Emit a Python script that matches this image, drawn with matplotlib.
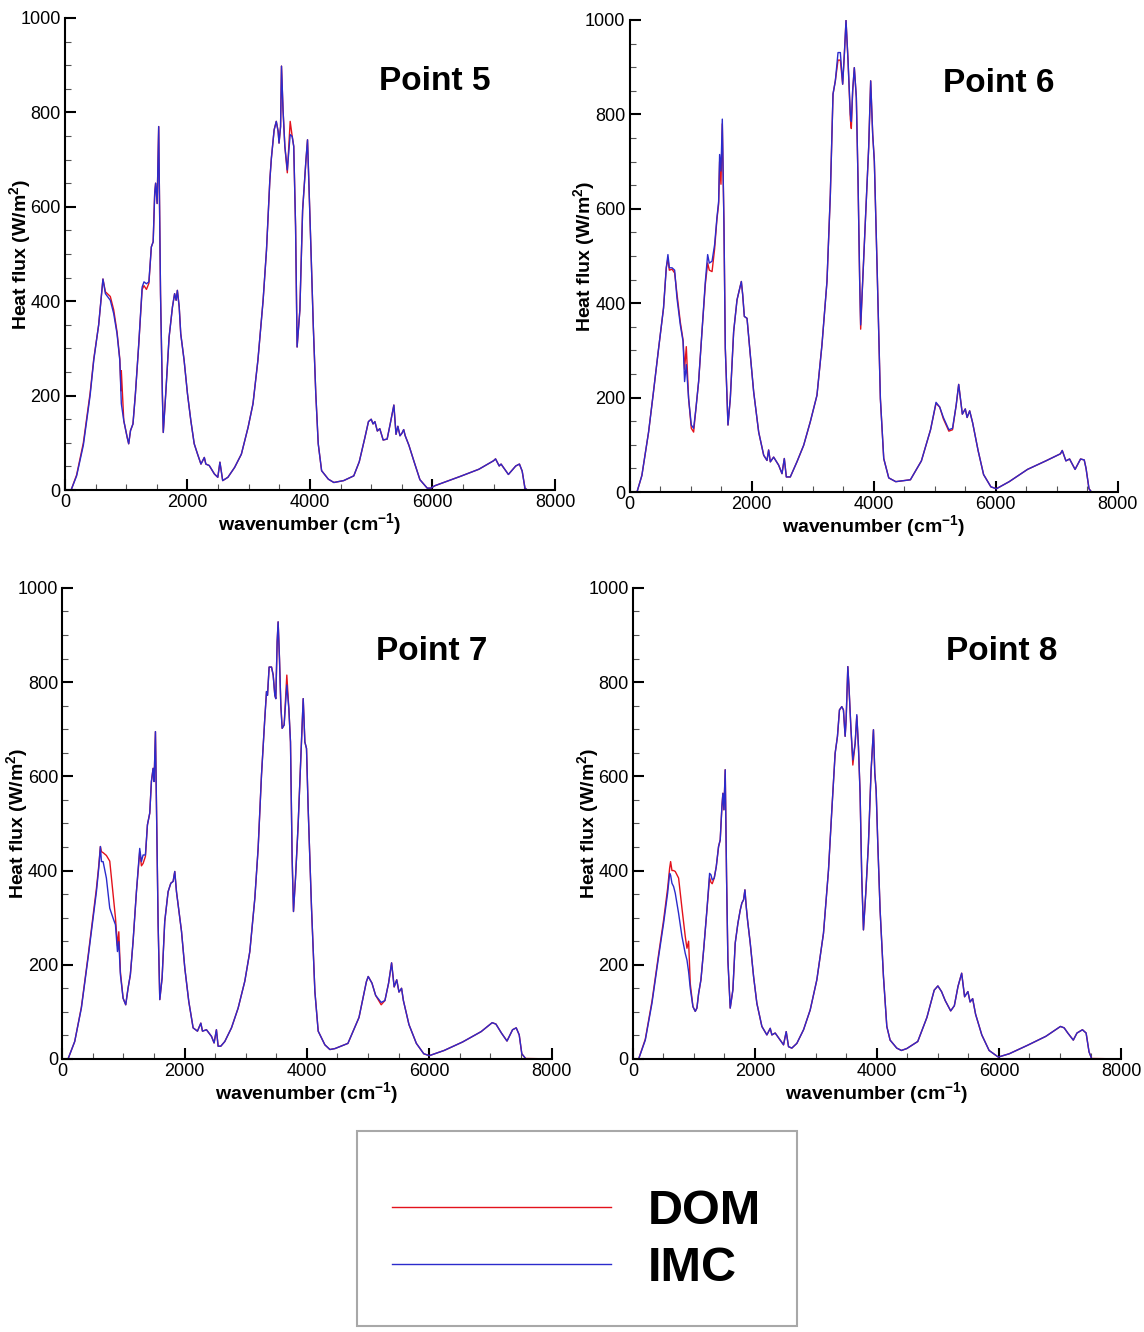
import matplotlib
matplotlib.use('Agg')
import numpy as np
import matplotlib.pyplot as plt
from matplotlib.ticker import MultipleLocator
from matplotlib.patches import Rectangle

plt.rcParams['font.family'] = ['Liberation Sans', 'DejaVu Sans']
plt.rcParams['mathtext.fontset'] = 'custom'
plt.rcParams['mathtext.rm'] = 'Liberation Sans:bold'
plt.rcParams['mathtext.it'] = 'Liberation Sans:bold'
plt.rcParams['mathtext.bf'] = 'Liberation Sans:bold'

nan = np.nan

# ---- Point 5 ----
wn5 = [0, 100, 190, 300, 410, 470, 550, 620, 660, 740, 795, 850, 895, 915, 920, 960,
       1015, 1040, 1070, 1110, 1150, 1205, 1260, 1290, 1330, 1370, 1410, 1440, 1465, 1480,
       1505, 1530, 1560, 1590, 1605, 1645, 1700, 1755, 1790, 1815, 1835, 1865, 1890, 1945,
       2000, 2055, 2110, 2165, 2220, 2275, 2300, 2355, 2440, 2495, 2530, 2575, 2660, 2770,
       2880, 2990, 3070, 3150, 3235, 3290, 3345, 3370, 3415, 3450, 3480, 3495, 3520, 3535,
       3560, 3590, 3630, 3677, 3710, 3735, 3765, 3790, 3835, 3880, 3935, 3960, 3990, 4015,
       4055, 4095, 4135, 4190, 4300, 4390, 4550, 4715, 4805, 4895, 4955, 5000, 5030, 5060,
       5100, 5140, 5195, 5260, 5310, 5370, 5405, 5435, 5470, 5500, 5530, 5555, 5615, 5705,
       5795, 5915, 5975, 6036, 6456, 6757, 6997, 7030, 7090, 7120, 7180, 7240, 7300, 7360,
       7420, 7465, 7510, 7550, 8000]
imc5 = [0, 0, 30, 95, 200, 275, 350, 447, 416, 402, 374, 331, 275, 204, 183, 147,
        112, 98, 126, 140, 204, 310, 430, 441, 437, 441, 515, 526, 629, 650,
        607, 770, 416, 204, 122, 204, 324, 388, 416, 402, 423, 388, 331, 275,
        204, 147, 98, 76, 55, 69, 55, 52, 34, 27, 59, 20, 27, 48,
        76, 133, 183, 275, 402, 508, 657, 703, 763, 781, 760, 735, 770, 898,
        806, 728, 678, 753, 749, 728, 558, 303, 381, 593, 700, 742, 622, 515,
        345, 204, 98, 41, 23, 16, 20, 30, 60, 110, 145, 150, 140, 145,
        125, 130, 106, 108, 140, 180, 118, 135, 115, 120, 128, 115, 95, 58,
        22, 4, 4, 9, 29, 44, 62, 66, 51, 55, 44, 33, 42, 51,
        55, 40, 4, 0, nan]
dom5 = [0, 0, 32, 100, 205, 278, 350, 447, 420, 410, 382, 335, 278, 210, 253, 147,
        112, 98, 126, 140, 204, 310, 425, 433, 425, 438, 515, 526, 629, 650,
        607, 770, 416, 204, 122, 204, 324, 388, 416, 402, 423, 388, 331, 275,
        204, 147, 98, 76, 55, 69, 55, 52, 34, 27, 59, 20, 27, 48,
        76, 133, 183, 275, 402, 508, 657, 703, 763, 781, 760, 735, 770, 898,
        806, 728, 672, 781, 749, 728, 558, 303, 381, 593, 700, 742, 622, 515,
        345, 204, 98, 41, 23, 16, 20, 30, 60, 110, 145, 150, 140, 145,
        125, 130, 106, 108, 140, 180, 118, 135, 115, 120, 128, 115, 95, 58,
        22, 4, 4, 9, 29, 44, 62, 66, 51, 55, 44, 33, 42, 51,
        55, 40, 4, 0, 0]

# ---- Point 6 ----
wn6 = [0, 120, 200, 310, 390, 475, 555, 600, 627, 650, 695, 737, 775, 830, 875, 900,
       928, 966, 1010, 1048, 1086, 1130, 1185, 1240, 1278, 1305, 1350, 1392, 1430, 1458,
       1474, 1496, 1518, 1545, 1567, 1611, 1649, 1704, 1759, 1797, 1830, 1852, 1879, 1923,
       1977, 2032, 2114, 2196, 2250, 2277, 2305, 2359, 2441, 2496, 2534, 2567, 2632, 2741,
       2851, 2960, 3069, 3151, 3233, 3288, 3332, 3370, 3414, 3452, 3490, 3518, 3545, 3578,
       3616, 3632, 3654, 3681, 3714, 3742, 3769, 3785, 3818, 3862, 3916, 3949, 3982, 4009,
       4053, 4108, 4163, 4245, 4360, 4600, 4780, 4930, 5020, 5080, 5140, 5230, 5290, 5350,
       5391, 5451, 5499, 5529, 5571, 5619, 5709, 5799, 5919, 6009, 6219, 6519, 6819, 7058,
       7088, 7148, 7208, 7298, 7388, 7448, 7478, 7526, 7568, 8000]
imc6 = [0, 0, 35, 127, 212, 305, 390, 475, 503, 475, 475, 470, 411, 354, 319, 234,
        270, 198, 142, 135, 177, 234, 340, 446, 503, 485, 489, 524, 581, 616,
        715, 680, 790, 567, 305, 142, 198, 340, 407, 428, 446, 418, 372, 368,
        290, 212, 127, 78, 67, 89, 64, 74, 57, 39, 71, 32, 32, 64,
        99, 149, 205, 312, 446, 630, 843, 871, 931, 931, 864, 928, 999, 914,
        800, 785, 850, 899, 836, 659, 446, 354, 446, 574, 729, 871, 758, 701,
        482, 198, 71, 30, 22, 26, 66, 132, 190, 180, 158, 132, 135, 184,
        228, 165, 176, 158, 172, 147, 88, 37, 11, 7, 22, 48, 66, 81,
        88, 66, 70, 48, 70, 68, 50, 7, 0, nan]
dom6 = [0, 0, 35, 127, 212, 305, 390, 475, 495, 470, 472, 464, 420, 360, 322, 260,
        308, 198, 135, 127, 177, 234, 340, 440, 485, 470, 467, 515, 578, 610,
        700, 652, 780, 567, 305, 142, 198, 340, 407, 428, 446, 418, 372, 368,
        290, 212, 127, 78, 67, 89, 64, 74, 57, 39, 71, 32, 32, 64,
        99, 149, 205, 312, 446, 630, 843, 871, 915, 915, 864, 928, 999, 914,
        790, 770, 850, 899, 836, 659, 446, 345, 446, 574, 729, 871, 758, 701,
        482, 198, 71, 30, 22, 26, 66, 132, 188, 180, 155, 129, 132, 184,
        228, 165, 176, 158, 172, 147, 88, 37, 11, 7, 22, 48, 66, 81,
        88, 66, 70, 48, 70, 68, 50, 7, 0, 0]

# ---- Point 7 ----
wn7 = [0, 95, 204, 313, 422, 504, 559, 597, 624, 641, 668, 722, 777, 831, 870, 903,
       925, 951, 995, 1038, 1076, 1114, 1158, 1213, 1267, 1295, 1322, 1360, 1393, 1431,
       1458, 1486, 1502, 1524, 1546, 1568, 1595, 1633, 1676, 1731, 1775, 1813, 1840, 1868,
       1895, 1950, 2004, 2069, 2140, 2211, 2266, 2293, 2358, 2440, 2483, 2521, 2549, 2592,
       2658, 2767, 2876, 2985, 3067, 3149, 3203, 3258, 3312, 3340, 3356, 3383, 3422, 3449,
       3476, 3492, 3514, 3530, 3552, 3574, 3596, 3628, 3672, 3705, 3732, 3759, 3781, 3814,
       3857, 3901, 3940, 3967, 3994, 4021, 4076, 4131, 4185, 4294, 4376, 4459, 4671, 4852,
       4973, 5003, 5064, 5124, 5215, 5276, 5336, 5385, 5427, 5469, 5506, 5548, 5578, 5669,
       5790, 5911, 6002, 6244, 6546, 6849, 7030, 7091, 7181, 7272, 7363, 7423, 7472, 7514,
       7575, 8000]
imc7 = [0, 0, 37, 108, 214, 299, 355, 405, 451, 419, 419, 384, 320, 299, 285, 228,
        249, 179, 129, 115, 150, 179, 249, 355, 447, 419, 433, 433, 497, 522,
        589, 617, 589, 695, 497, 285, 126, 172, 292, 355, 373, 377, 398, 355,
        327, 271, 193, 122, 66, 59, 76, 59, 62, 48, 34, 62, 27, 27,
        37, 66, 108, 165, 228, 341, 447, 603, 723, 780, 772, 832, 832, 815,
        772, 765, 886, 928, 850, 751, 702, 709, 794, 744, 673, 426, 313, 384,
        497, 638, 765, 673, 659, 532, 320, 143, 59, 30, 20, 22, 33, 88,
        164, 175, 161, 135, 120, 124, 161, 204, 153, 168, 142, 150, 124, 73,
        33, 11, 7, 18, 36, 58, 77, 74, 55, 38, 62, 66, 51, 11,
        1, nan]
dom7 = [0, 0, 37, 110, 218, 305, 362, 410, 451, 440, 438, 432, 420, 350, 300, 240,
        270, 185, 129, 115, 150, 179, 249, 355, 440, 410, 415, 430, 497, 522,
        589, 617, 589, 695, 497, 285, 126, 172, 292, 355, 373, 377, 398, 355,
        327, 271, 193, 122, 66, 59, 76, 59, 62, 48, 34, 62, 27, 27,
        37, 66, 108, 165, 228, 341, 447, 603, 723, 780, 772, 832, 832, 815,
        772, 765, 886, 928, 850, 751, 702, 709, 815, 744, 673, 426, 313, 384,
        497, 638, 765, 673, 659, 532, 320, 143, 59, 30, 20, 22, 33, 88,
        164, 175, 161, 135, 115, 124, 161, 204, 153, 168, 142, 150, 124, 73,
        33, 11, 7, 18, 36, 58, 77, 74, 55, 38, 62, 66, 51, 11,
        1, 0]

# ---- Point 8 ----
wn8 = [0, 93, 202, 311, 420, 502, 568, 601, 617, 639, 666, 693, 748, 803, 857, 885,
       912, 939, 983, 1021, 1048, 1076, 1114, 1158, 1212, 1256, 1278, 1299, 1332, 1365,
       1403, 1430, 1458, 1474, 1491, 1512, 1534, 1556, 1594, 1638, 1676, 1720, 1758, 1785,
       1813, 1835, 1856, 1878, 1922, 1977, 2031, 2113, 2195, 2250, 2277, 2331, 2413, 2468,
       2512, 2550, 2604, 2686, 2796, 2905, 3014, 3123, 3205, 3260, 3314, 3352, 3385, 3423,
       3450, 3478, 3494, 3522, 3543, 3571, 3604, 3642, 3669, 3696, 3723, 3750, 3778, 3816,
       3860, 3904, 3942, 3964, 3986, 4013, 4051, 4106, 4161, 4215, 4324, 4400, 4488, 4668,
       4818, 4938, 4998, 5058, 5118, 5208, 5268, 5328, 5388, 5436, 5490, 5526, 5568, 5616,
       5718, 5838, 5988, 6168, 6468, 6768, 7008, 7068, 7128, 7218, 7278, 7368, 7428, 7476,
       7518, 8000]
imc8 = [0, 0, 40, 118, 217, 288, 352, 394, 390, 373, 366, 352, 309, 260, 224, 210,
        185, 150, 111, 101, 108, 139, 168, 231, 316, 394, 391, 380, 384, 408,
        451, 465, 536, 564, 529, 614, 387, 210, 108, 147, 246, 288, 316, 331,
        338, 359, 324, 295, 246, 175, 118, 69, 51, 65, 51, 55, 40, 30,
        58, 26, 23, 33, 62, 104, 168, 267, 401, 529, 649, 685, 741, 748,
        741, 685, 720, 833, 784, 706, 635, 670, 731, 663, 564, 387, 274, 352,
        458, 614, 699, 607, 571, 458, 316, 175, 69, 40, 23, 18, 22, 37,
        88, 146, 155, 143, 124, 102, 113, 154, 182, 132, 143, 121, 128, 95,
        51, 18, 4, 11, 29, 48, 69, 66, 55, 40, 55, 62, 55, 15,
        1, nan]
dom8 = [0, 0, 42, 122, 222, 295, 362, 405, 419, 400, 400, 398, 384, 320, 260, 235,
        250, 160, 111, 101, 108, 139, 168, 231, 316, 385, 375, 372, 384, 408,
        451, 465, 536, 564, 529, 614, 387, 210, 108, 147, 246, 288, 316, 331,
        338, 359, 324, 295, 246, 175, 118, 69, 51, 65, 51, 55, 40, 30,
        58, 26, 23, 33, 62, 104, 168, 267, 401, 529, 649, 685, 741, 748,
        741, 685, 720, 833, 784, 706, 624, 670, 728, 663, 564, 387, 274, 352,
        458, 614, 699, 607, 571, 458, 316, 175, 69, 40, 23, 18, 22, 37,
        88, 146, 155, 143, 124, 102, 113, 154, 182, 132, 143, 121, 128, 95,
        51, 18, 4, 11, 29, 48, 69, 66, 55, 40, 55, 62, 55, 15,
        1, 0]

titles = ['Point 5', 'Point 6', 'Point 7', 'Point 8']
panels = [(wn5, dom5, imc5), (wn6, dom6, imc6), (wn7, dom7, imc7), (wn8, dom8, imc8)]
boxes = [[0.0568, 0.6321, 0.4283, 0.3544],
         [0.5504, 0.6306, 0.4268, 0.3544],
         [0.0544, 0.2050, 0.4277, 0.3536],
         [0.5533, 0.2050, 0.4266, 0.3536]]

red = '#e3121c'
blue = '#2b2bcc'

W, H = 1144, 1332
fig = plt.figure(figsize=(W / 100, H / 100), dpi=100)
fig.patch.set_facecolor('white')

handles = None
for title, (wn, dom, imc), box in zip(titles, panels, boxes):
    ax = fig.add_axes(box)
    l1, = ax.plot(wn, dom, color=red, lw=1.0, label='DOM')
    l2, = ax.plot(wn, imc, color=blue, lw=1.0, label='IMC')
    if handles is None:
        handles = [l1, l2]

    ax.set_xlim(0, 8000)
    ax.set_ylim(0, 1000)
    ax.xaxis.set_major_locator(MultipleLocator(2000))
    ax.xaxis.set_minor_locator(MultipleLocator(500))
    ax.yaxis.set_major_locator(MultipleLocator(200))
    ax.yaxis.set_minor_locator(MultipleLocator(50))
    ax.tick_params(which='major', direction='in', length=8, width=1.5, labelsize=13, pad=3)
    ax.tick_params(which='minor', direction='in', length=4, width=0.8, color='#555555')
    for s in ['top', 'right']:
        ax.spines[s].set_visible(False)
    for s in ['left', 'bottom']:
        ax.spines[s].set_linewidth(1.5)

    ax.set_xlabel(r'wavenumber (cm$^{-1}$)', fontsize=14, fontweight='bold', labelpad=0)
    ax.set_ylabel(r'Heat flux (W/m$^{2}$)', fontsize=14, fontweight='bold')
    ax.yaxis.set_label_coords(-0.066, 0.5)
    ax.text(0.755, 0.865, title, transform=ax.transAxes, ha='center', va='center',
            fontsize=24, fontweight='bold')

# legend box drawn in figure pixels, entries from the plotted lines
fig.patches.append(Rectangle((357 / W, 1 - 1326 / H), 440 / W, 195 / H,
                             transform=fig.transFigure, fill=False,
                             edgecolor='#a8a8a8', lw=1.5))
fig.legend(handles=handles, loc='center', bbox_to_anchor=(0.5039, 1 - 1240 / H),
           prop={'weight': 'bold', 'size': 35}, handlelength=4.5,
           handletextpad=0.76, labelspacing=0.25, borderpad=0.2, frameon=False)

fig.savefig('out.png', dpi=100)
